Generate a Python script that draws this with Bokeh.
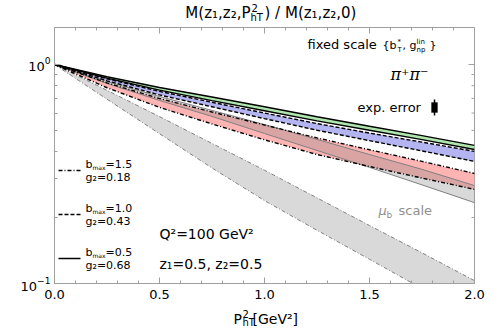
from bokeh.plotting import figure
from bokeh.layouts import column
from bokeh.models import (Range1d, Label, BoxAnnotation,
                          FixedTicker, PrintfTickFormatter, Arrow)
from bokeh.embed import file_html
from bokeh.resources import INLINE

# ---------------- data ----------------
P = [0.0, 0.25, 0.5, 0.75, 1.0, 1.25, 1.5, 1.75, 2.0]
# fixed scale, b_max=0.5, g2=0.68 (solid, green band)
green_hi = [1, 0.879, 0.785, 0.710, 0.641, 0.577, 0.522, 0.473, 0.427]
green_lo = [1, 0.866, 0.764, 0.684, 0.615, 0.553, 0.501, 0.454, 0.409]
# fixed scale, b_max=1.0, g2=0.43 (dashed, blue band)
blue_hi = [1, 0.860, 0.754, 0.672, 0.600, 0.537, 0.486, 0.442, 0.401]
blue_lo = [1, 0.842, 0.726, 0.641, 0.566, 0.501, 0.449, 0.403, 0.361]
# fixed scale, b_max=1.5, g2=0.18 (dash-dot, red band)
red_hi = [1, 0.824, 0.699, 0.607, 0.529, 0.462, 0.408, 0.361, 0.318]
red_lo = [1, 0.783, 0.637, 0.535, 0.453, 0.388, 0.342, 0.303, 0.269]
# mu_b scale, b_max=0.5 (solid grey)
mub_hi = [1, 0.836, 0.714, 0.617, 0.532, 0.455, 0.388, 0.332, 0.280]
mub_lo = [1, 0.819, 0.685, 0.579, 0.484, 0.405, 0.339, 0.282, 0.234]
# mu_b scale, b_max=1.5 (dash-dot grey)
mub15_hi = [1, 0.762, 0.578, 0.436, 0.329, 0.246, 0.184, 0.138, 0.103]
mub15_lo = [1, 0.694, 0.483, 0.337, 0.239, 0.175, 0.129, 0.0948, 0.0697]

x_ticks = [0.0, 0.5, 1.0, 1.5, 2.0]
x_minor = [i / 10 for i in range(21)]
y_ticks = [0.1, 1.0]
y_minor = [0.2, 0.3, 0.4, 0.5, 0.6, 0.7, 0.8, 0.9]

legend_bmax = ["1.5", "1.0", "0.5"]
legend_g2 = ["0.18", "0.43", "0.68"]
legend_dash = ["4 2 1 2", "4 2", "solid"]

# ---------------- layout (page pixels) ----------------
W = 498
TOP_H = 22          # title strip: page y 0..22
MAIN_H = 283        # main figure: page y 22..305
BOT_H = 24          # x-title strip: page y 305..329
FL, FR, FT, FB = 54, 474, 27, 283  # frame edges in page pixels
FONT = "DejaVu Sans"
X0, X1 = 0.0, 2.0
Y0, Y1 = 0.1, 1.475

p = figure(width=W, height=MAIN_H, y_axis_type="log",
           x_range=Range1d(X0, X1), y_range=Range1d(Y0, Y1),
           output_backend="svg", toolbar_location=None,
           min_border_left=FL, min_border_right=W - FR,
           min_border_top=FT - TOP_H, min_border_bottom=TOP_H + MAIN_H - FB)
p.grid.visible = False
AX = "#a0a0a0"
p.outline_line_color = AX
p.background_fill_color = "white"

for ax in (p.xaxis[0], p.yaxis[0]):
    ax.axis_line_color = AX
    ax.major_tick_line_color = AX
    ax.minor_tick_line_color = AX
    ax.major_tick_in = 6
    ax.major_tick_out = 0
    ax.minor_tick_in = 3
    ax.minor_tick_out = 0
    ax.major_label_text_font = FONT
    ax.major_label_text_font_size = "13px"
    ax.major_label_text_color = "black"

p.xaxis.ticker = FixedTicker(ticks=x_ticks, minor_ticks=x_minor)
p.xaxis.formatter = PrintfTickFormatter(format="%.1f")
p.xaxis.major_label_standoff = 6
p.yaxis.ticker = FixedTicker(ticks=y_ticks, minor_ticks=y_minor)
p.yaxis.major_label_standoff = 4

# mirrored (inward) ticks on the top and right frame edges
fw, fh = FR - FL, FB - FT
dx_major, dx_minor = 6 * (X1 - X0) / fw, 3 * (X1 - X0) / fw
ky_major = (Y1 / Y0) ** (-6 / fh)
ky_minor = (Y1 / Y0) ** (-3 / fh)
p.segment(x0=x_minor, x1=x_minor, y0=[Y1] * len(x_minor),
          y1=[Y1 * ky_minor] * len(x_minor), line_color=AX, line_width=1)
p.segment(x0=x_ticks, x1=x_ticks, y0=[Y1] * len(x_ticks),
          y1=[Y1 * ky_major] * len(x_ticks), line_color=AX, line_width=1)
p.segment(x0=[X1] * len(y_minor), x1=[X1 - dx_minor] * len(y_minor),
          y0=y_minor, y1=y_minor, line_color=AX, line_width=1)
p.segment(x0=[X1] * len(y_ticks), x1=[X1 - dx_major] * len(y_ticks),
          y0=y_ticks, y1=y_ticks, line_color=AX, line_width=1)

# ---------------- bands ----------------
p.varea(x=P, y1=mub15_lo, y2=mub15_hi, fill_color="#808080", fill_alpha=0.3)
p.varea(x=P, y1=green_lo, y2=green_hi, fill_color="#aee6ae")
p.varea(x=P, y1=blue_lo, y2=blue_hi, fill_color="#b4b4f0")
p.varea(x=P, y1=red_lo, y2=red_hi, fill_color="#ffb4b4")
p.varea(x=P, y1=mub_lo, y2=mub_hi, fill_color="#808080", fill_alpha=0.3)

# ---------------- lines ----------------
for ys in (mub15_hi, mub15_lo):
    p.line(P, ys, line_color="#808080", line_width=1, line_dash="4 2 1 2")
for ys in (mub_hi, mub_lo):
    p.line(P, ys, line_color="#808080", line_width=1)
for ys in (red_hi, red_lo):
    p.line(P, ys, line_color="black", line_width=1.4, line_dash="4 2 1 2")
for ys in (blue_hi, blue_lo):
    p.line(P, ys, line_color="black", line_width=1.4, line_dash="4 2")
for ys in (green_hi, green_lo):
    p.line(P, ys, line_color="black", line_width=1.4)


# ---------------- texts ----------------
def lab(fig, X, Y, text, size, color="black", align="left", font=FONT, style_="normal",
        ox=FL, oy=FB):
    # (X, Y) are page pixels; (ox, oy) is the page position of the frame's bottom-left
    fig.add_layout(Label(x=X - ox, y=oy - Y, x_units="screen", y_units="screen",
                         text=text, text_font=font, text_font_size=f"{size}px",
                         text_color=color, text_align=align, text_baseline="middle",
                         text_font_style=style_))


def strip(h):
    f = figure(width=W, height=h, x_range=Range1d(0, 1), y_range=Range1d(0, 1),
               output_backend="svg", toolbar_location=None,
               x_axis_location=None, y_axis_location=None,
               min_border_left=FL, min_border_right=W - FR,
               min_border_top=0, min_border_bottom=0)
    f.grid.visible = False
    f.outline_line_color = None
    return f


# title strip (frame starts at page x = FL)
t = strip(TOP_H)
tl = dict(ox=FL, oy=TOP_H)
lab(t, 250, 12, "M(z\u2081,z\u2082,P", 15, align="right", **tl)
lab(t, 251, 7, "2", 10, **tl)
lab(t, 250, 17, "hT", 10, **tl)
lab(t, 264, 12, ") / M(z\u2081,z\u2082,0)", 15, **tl)

# x-axis title strip
b = strip(BOT_H)
bl = dict(ox=FL, oy=TOP_H + MAIN_H + BOT_H)
lab(b, 233, 318, "P", 14, **bl)
lab(b, 242, 313, "2", 10, **bl)
lab(b, 242, 322, "hT", 10, **bl)
lab(b, 252, 318, "[GeV\u00b2]", 14, **bl)

# fixed scale
lab(p, 307, 44, "fixed scale", 13)
lab(p, 382, 45, "{b", 11)
lab(p, 397, 41, "*", 7)
lab(p, 397, 49, "T", 7)
lab(p, 402, 45, ", g", 11)
lab(p, 416, 41, "lin", 7)
lab(p, 416, 49, "np", 7)
lab(p, 429, 45, "}", 11)

# pi+ pi-
lab(p, 390, 74, "\u03c0\u207a\u03c0\u207b", 16, font="DejaVu Serif", style_="italic")

# exp. error
lab(p, 357, 107, "exp. error", 13)
p.add_layout(BoxAnnotation(left=431 - FL, right=437 - FL, top=FB - 102, bottom=FB - 112,
                           left_units="screen", right_units="screen",
                           top_units="screen", bottom_units="screen",
                           fill_color="black", fill_alpha=1, line_color="black"))
p.add_layout(Arrow(x_start=434 - FL, y_start=FB - 99, x_end=434 - FL, y_end=FB - 115,
                   start_units="screen", end_units="screen", end=None,
                   line_color="black", line_width=1.5))

# mu_b scale
lab(p, 378, 210, "\u03bc", 13, color="#909090", style_="italic")
lab(p, 386, 214, "b", 9, color="#909090")
lab(p, 398, 210, "scale", 13, color="#909090")

# kinematics
lab(p, 159, 233, "Q\u00b2=100 GeV\u00b2", 14)
lab(p, 159, 263, "z\u2081=0.5, z\u2082=0.5", 14)

# legend
for i in range(3):
    yb = 164 + 44 * i
    yl = yb + 6
    p.add_layout(Arrow(x_start=58 - FL, y_start=FB - yl, x_end=80 - FL, y_end=FB - yl,
                       start_units="screen", end_units="screen", end=None,
                       line_color="black", line_width=1.3, line_dash=legend_dash[i]))
    lab(p, 85, yb, "b", 11)
    lab(p, 92, yb + 3, "max", 6)
    lab(p, 105, yb, "=" + legend_bmax[i], 11)
    lab(p, 85, yb + 13, "g\u2082=" + legend_g2[i], 11)

layout = column(t, p, b, spacing=0)
open("out.html", "w").write(file_html(layout, INLINE))
